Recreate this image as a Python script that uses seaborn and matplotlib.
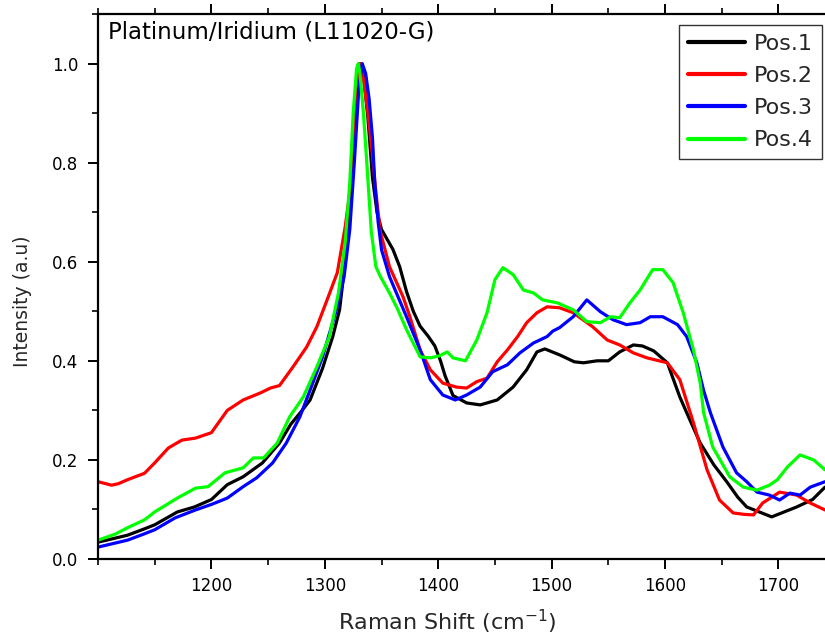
import numpy as np
import pandas as pd
import matplotlib
matplotlib.use("Agg")
import matplotlib.pyplot as plt
import seaborn as sns
from matplotlib.ticker import MultipleLocator, FormatStrFormatter

# ---- data ----
pos1_x = [1100, 1115, 1126, 1140, 1150, 1160, 1170, 1185, 1200, 1214, 1228, 1245, 1260, 1270, 1280,
          1287, 1298, 1307, 1313, 1319, 1322, 1325, 1328, 1331, 1334, 1338, 1342, 1346, 1350, 1355,
          1360, 1366, 1372, 1378, 1384, 1391, 1397, 1402, 1406, 1413, 1425, 1437, 1452, 1466, 1478,
          1487, 1494, 1507, 1520, 1528, 1540, 1550, 1560, 1572, 1580, 1590, 1602, 1613, 1622, 1631,
          1643, 1655, 1664, 1672, 1683, 1694, 1705, 1716, 1730, 1741]
pos1_y = [0.034, 0.042, 0.048, 0.060, 0.069, 0.082, 0.095, 0.105, 0.120, 0.150, 0.166, 0.194, 0.234,
          0.272, 0.300, 0.321, 0.385, 0.449, 0.503, 0.620, 0.700, 0.820, 0.930, 1.000, 0.980, 0.890,
          0.770, 0.700, 0.665, 0.645, 0.625, 0.590, 0.540, 0.500, 0.470, 0.450, 0.430, 0.400, 0.370,
          0.330, 0.315, 0.311, 0.321, 0.347, 0.382, 0.418, 0.424, 0.412, 0.398, 0.396, 0.400, 0.400,
          0.418, 0.432, 0.430, 0.420, 0.396, 0.327, 0.280, 0.234, 0.190, 0.154, 0.125, 0.105, 0.095,
          0.085, 0.095, 0.105, 0.120, 0.145]

pos2_x = [1100, 1112, 1118, 1126, 1141, 1150, 1162, 1174, 1186, 1200, 1214, 1228, 1243, 1252, 1260,
          1272, 1284, 1293, 1302, 1311, 1318, 1322, 1325, 1328, 1331, 1334, 1338, 1341.5, 1345, 1349,
          1357, 1369, 1375, 1384, 1393, 1404, 1416, 1425, 1434, 1443, 1452, 1461, 1470, 1478, 1487,
          1496, 1507, 1519, 1536, 1549, 1560, 1572, 1584, 1602, 1613, 1625, 1637, 1648, 1660, 1670,
          1678, 1686, 1701, 1716, 1728, 1741]
pos2_y = [0.156, 0.149, 0.152, 0.160, 0.173, 0.194, 0.224, 0.240, 0.244, 0.255, 0.300, 0.321, 0.335,
          0.345, 0.350, 0.388, 0.428, 0.469, 0.523, 0.578, 0.671, 0.740, 0.830, 0.940, 1.000, 0.970,
          0.900, 0.826, 0.740, 0.660, 0.590, 0.529, 0.489, 0.422, 0.382, 0.355, 0.347, 0.345, 0.358,
          0.365, 0.398, 0.422, 0.449, 0.477, 0.497, 0.509, 0.507, 0.497, 0.469, 0.442, 0.432, 0.416,
          0.406, 0.396, 0.362, 0.275, 0.180, 0.119, 0.093, 0.090, 0.089, 0.113, 0.135, 0.129, 0.113,
          0.099]

pos3_x = [1100, 1113, 1126, 1140, 1150, 1168, 1186, 1201, 1214, 1228, 1240, 1254, 1266, 1278, 1287,
          1298, 1311, 1317, 1322, 1326, 1330, 1333, 1336, 1339, 1342, 1344, 1347, 1350, 1357, 1372,
          1384, 1393, 1404, 1415, 1425, 1437, 1448, 1461, 1472, 1484, 1496, 1501, 1507, 1519, 1531,
          1543, 1554, 1566, 1578, 1587, 1598, 1611, 1619, 1628, 1634, 1640, 1651, 1663, 1672, 1681,
          1692, 1701, 1710, 1719, 1728, 1741]
pos3_y = [0.024, 0.031, 0.038, 0.050, 0.059, 0.083, 0.099, 0.111, 0.123, 0.146, 0.164, 0.194, 0.234,
          0.287, 0.341, 0.408, 0.509, 0.570, 0.665, 0.800, 0.950, 1.000, 0.980, 0.930, 0.850, 0.760,
          0.680, 0.624, 0.570, 0.489, 0.422, 0.362, 0.331, 0.321, 0.331, 0.347, 0.378, 0.392, 0.416,
          0.436, 0.449, 0.460, 0.467, 0.489, 0.523, 0.499, 0.483, 0.473, 0.477, 0.489, 0.489, 0.473,
          0.449, 0.396, 0.340, 0.295, 0.226, 0.174, 0.156, 0.135, 0.129, 0.119, 0.133, 0.129, 0.145,
          0.156]

pos4_x = [1100, 1115, 1126, 1141, 1150, 1170, 1186, 1197, 1212, 1228, 1237, 1246, 1258, 1269, 1281,
          1293, 1304, 1312, 1318, 1322, 1325, 1328, 1329.5, 1331, 1334, 1337, 1341, 1345, 1349, 1357,
          1364, 1372, 1384, 1393, 1401, 1408, 1413, 1424, 1434, 1443, 1450, 1457, 1466, 1475, 1484,
          1492, 1505, 1519, 1531, 1543, 1552, 1560, 1569, 1578, 1589, 1598, 1607, 1616, 1625, 1631,
          1634, 1642, 1657, 1669, 1681, 1692, 1699, 1708, 1719, 1731, 1741]
pos4_y = [0.038, 0.050, 0.063, 0.079, 0.095, 0.123, 0.143, 0.146, 0.174, 0.184, 0.204, 0.204, 0.234,
          0.287, 0.327, 0.388, 0.449, 0.537, 0.640, 0.760, 0.900, 0.990, 1.000, 0.980, 0.900, 0.800,
          0.660, 0.590, 0.570, 0.537, 0.505, 0.463, 0.408, 0.406, 0.410, 0.418, 0.406, 0.400, 0.442,
          0.497, 0.564, 0.588, 0.574, 0.543, 0.537, 0.523, 0.517, 0.503, 0.479, 0.477, 0.489, 0.487,
          0.517, 0.543, 0.584, 0.584, 0.558, 0.497, 0.422, 0.355, 0.295, 0.226, 0.166, 0.145, 0.139,
          0.149, 0.160, 0.186, 0.210, 0.200, 0.180]

series_names = ["Pos.1", "Pos.2", "Pos.3", "Pos.4"]
series_x = [pos1_x, pos2_x, pos3_x, pos4_x]
series_y = [pos1_y, pos2_y, pos3_y, pos4_y]
colors = ["#000000", "#ff0000", "#0000ff", "#00ff00"]

title_text = "Platinum/Iridium (L11020-G)"
x_label = "Raman Shift (cm$^{-1}$)"
y_label = "Intensity (a.u)"

frames = []
for name, xs, ys in zip(series_names, series_x, series_y):
    frames.append(pd.DataFrame({"shift": xs, "intensity": ys, "series": name}))
df = pd.concat(frames, ignore_index=True)

sns.set_theme(style="ticks")
plt.rcParams["font.family"] = ["DejaVu Sans"]
plt.rcParams["mathtext.fontset"] = "dejavusans"

fig = plt.figure(figsize=(8.25, 6.41), dpi=100)
ax = fig.add_axes([98 / 825, 1 - 559 / 641, 727 / 825, 545 / 641])

sns.lineplot(data=df, x="shift", y="intensity", hue="series", hue_order=series_names,
             palette=dict(zip(series_names, colors)), sort=False, estimator=None,
             linewidth=2.3, ax=ax)

ax.set_xlim(1100, 1741)
ax.set_ylim(0, 1.1)
ax.set_xticks([1200, 1300, 1400, 1500, 1600, 1700])
ax.xaxis.set_minor_locator(MultipleLocator(50))
ax.yaxis.set_major_locator(MultipleLocator(0.2))
ax.yaxis.set_minor_locator(MultipleLocator(0.1))
ax.yaxis.set_major_formatter(FormatStrFormatter("%.1f"))

for side in ["left", "bottom", "top"]:
    ax.spines[side].set_linewidth(1.6)
    ax.spines[side].set_color("black")
ax.spines["right"].set_visible(False)

ax.tick_params(axis="both", which="major", direction="out", length=7, width=1.4,
               labelsize=12, colors="black")
ax.tick_params(axis="both", which="minor", direction="out", length=4, width=1.4)
ax.tick_params(axis="x", which="both", top=True, labeltop=False)
ax.tick_params(axis="x", which="major", pad=6)
ax.tick_params(axis="y", which="major", pad=7)

ax.set_xlabel(x_label, fontsize=16)
ax.set_ylabel(y_label, fontsize=13.5)
ax.xaxis.set_label_coords(0.48, -0.09)
ax.yaxis.set_label_coords(-0.091, 0.473)

ax.text(0.014, 0.988, title_text, transform=ax.transAxes, ha="left", va="top",
        fontsize=16.5, color="black")

handles, labels = ax.get_legend_handles_labels()
leg = ax.legend(handles, labels, loc="upper right", bbox_to_anchor=(0.996, 0.98),
                borderaxespad=0, frameon=True, fancybox=False, edgecolor="black",
                fontsize=16, handlelength=2.6, handletextpad=0.4, labelspacing=0.55,
                borderpad=0.4)
leg.get_frame().set_linewidth(1.0)
for line in leg.get_lines():
    line.set_linewidth(3)

fig.savefig("out.png", dpi=100)
